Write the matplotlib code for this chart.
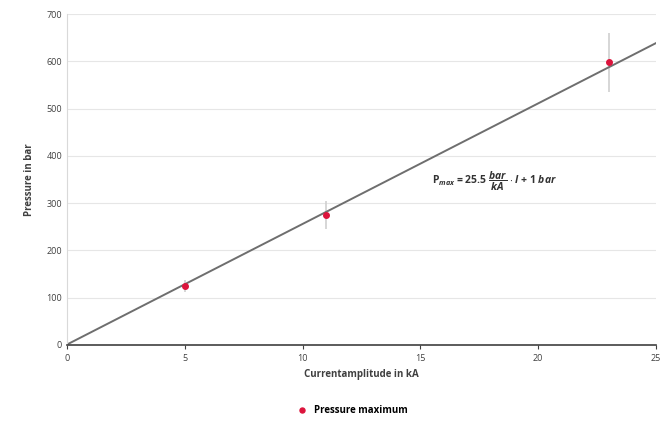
import matplotlib
matplotlib.use("Agg")
import matplotlib.pyplot as plt
import numpy as np

plt.rcParams['font.family'] = ['Open Sans', 'DejaVu Sans']
plt.rcParams['mathtext.fontset'] = 'custom'
plt.rcParams['mathtext.rm'] = 'Open Sans:bold'
plt.rcParams['mathtext.it'] = 'Open Sans:italic:bold'

current_ka = [5, 11, 23]
pressure_bar = [125, 275, 598]
pressure_err = [12, 30, 62]
fit_slope = 25.5
fit_offset = 1
x_ticks = [0, 5, 10, 15, 20, 25]
y_ticks = [0, 100, 200, 300, 400, 500, 600, 700]

fig = plt.figure(figsize=(6.7, 4.21), dpi=100)
ax = fig.add_axes([67/670, 1-345/421, (656-67)/670, (345-14)/421])

xf = np.array([0, 25])
ax.plot(xf, fit_slope*xf + fit_offset, color='#6e6e6e', lw=1.4, zorder=2)
ax.errorbar(current_ka, pressure_bar, yerr=pressure_err, fmt='none', ecolor='#d0d0d0', elinewidth=1.2, zorder=1)
ax.plot(current_ka, pressure_bar, 'o', color='#dc143c', ms=4, zorder=3, label='Pressure maximum')

ax.set_xlim(0, 25)
ax.set_ylim(0, 700)
ax.set_xticks(x_ticks)
ax.set_yticks(y_ticks)
ax.grid(axis='y', color='#e6e6e6', lw=0.8)
ax.set_axisbelow(True)
for s in ['top', 'right']:
    ax.spines[s].set_visible(False)
ax.spines['left'].set_color('#d9d9d9')
ax.spines['bottom'].set_color('#404040')
ax.spines['bottom'].set_linewidth(1.2)
ax.tick_params(axis='both', labelsize=6.5, colors='#404040', length=0)
ax.tick_params(axis='x', length=3, color='#404040')
ax.set_xlabel('Currentamplitude in kA', fontsize=7, fontweight='bold', color='#404040', labelpad=4)
ax.set_ylabel('Pressure in bar', fontsize=7, fontweight='bold', color='#404040', labelpad=8)

ax.text(15.5, 345, r'$\mathrm{P}_{max}$ = 25.5 $\dfrac{bar}{kA}$ $\cdot$ $I$ + 1 $bar$', fontsize=7.5,
        fontweight='bold', color='#333333', va='center')

ax.legend(loc='upper center', bbox_to_anchor=(0.48, -0.155), frameon=False,
          handletextpad=0.2, markerscale=0.9, prop={'weight': 'bold', 'size': 7})

fig.savefig('out.png', dpi=100)
